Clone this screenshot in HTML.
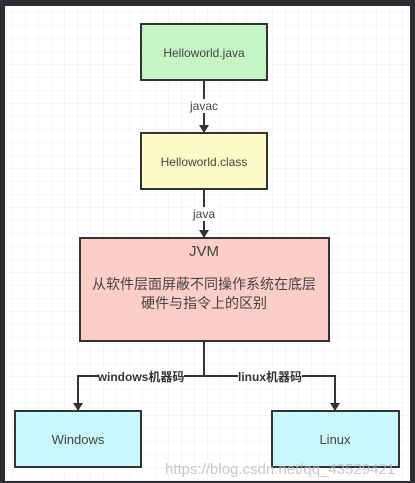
<!DOCTYPE html>
<html><head><meta charset="utf-8"><style>
html,body{margin:0;padding:0;background:#2c2e31;width:415px;height:483px;overflow:hidden}
</style></head><body>
<svg width="415" height="483" xmlns="http://www.w3.org/2000/svg" font-family="Liberation Sans, Noto Sans CJK SC, sans-serif">
<defs>
<pattern id="g" width="13" height="13" patternUnits="userSpaceOnUse"><path d="M13 0V13H0" fill="none" stroke="#ececec" stroke-width="1"/></pattern>
<marker id="a" markerWidth="8" markerHeight="10" refX="7" refY="5" orient="auto" markerUnits="userSpaceOnUse"><path d="M0 0L8 5L0 10z" fill="#333"/></marker>
</defs>
<rect x="5" y="6" width="405" height="475" fill="#fff"/>
<rect x="5" y="6" width="405" height="475" fill="url(#g)"/>
<g stroke="#333" stroke-width="2">
<rect x="141" y="24" width="126" height="56" fill="#c5f5c5"/>
<rect x="141" y="133" width="126" height="56" fill="#fdfac5"/>
<rect x="80" y="238" width="249" height="103" fill="#fdcdc7"/>
<rect x="15" y="411" width="126" height="56" fill="#c8f7fc"/>
<rect x="272" y="411" width="127" height="56" fill="#c8f7fc"/>
<line x1="204" y1="80" x2="204" y2="132" marker-end="url(#a)"/>
<line x1="204" y1="189" x2="204" y2="237" marker-end="url(#a)"/>
<polyline points="204,341 204,376 78,376 78,410" fill="none" marker-end="url(#a)"/>
<polyline points="204,376 335,376 335,410" fill="none" marker-end="url(#a)"/>
</g>
<g fill="#fff"><rect x="188" y="99" width="34" height="14"/><rect x="190" y="207" width="28" height="14"/><rect x="99" y="369" width="85" height="15"/><rect x="238" y="369" width="64" height="15"/></g>
<g fill="#444" font-size="12" text-anchor="middle">
<text x="204" y="57">Helloworld.java</text>
<text x="204" y="166">Helloworld.class</text>
<text x="204" y="110">javac</text>
<text x="204" y="218">java</text>
<text x="204" y="256" font-size="15">JVM</text>
<text x="204" y="289" font-size="14">从软件层面屏蔽不同操作系统在底层</text>
<text x="204" y="308" font-size="14">硬件与指令上的区别</text>
<text x="78" y="444" font-size="13">Windows</text>
<text x="335" y="444" font-size="13">Linux</text>
<text x="141" y="381" font-weight="bold" fill="#333">windows机器码</text>
<text x="270" y="381" font-weight="bold" fill="#333">linux机器码</text>
</g>
<text x="165" y="474" font-size="15" fill="#bbb" opacity="0.8">https://blog.csdn.net/qq_43529421</text>
</svg>
</body></html>
